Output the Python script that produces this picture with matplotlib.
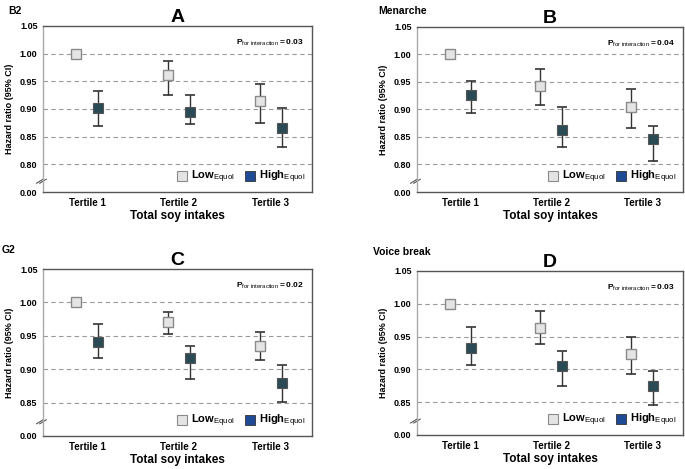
import matplotlib.pyplot as plt
from matplotlib.lines import Line2D

plt.rcParams['font.family'] = ['Liberation Sans', 'DejaVu Sans']
plt.rcParams['mathtext.fontset'] = 'custom'
plt.rcParams['mathtext.rm'] = 'Liberation Sans'
plt.rcParams['mathtext.bf'] = 'Liberation Sans:bold'

tertiles = ["Tertile 1", "Tertile 2", "Tertile 3"]
panels = ["A", "B", "C", "D"]
outcomes = ["B2", "Menarche", "G2", "Voice break"]
p_values = ["0.03", "0.04", "0.02", "0.03"]

# hazard ratio, lower CI, upper CI per tertile (None = reference, no CI)
low_hr = [[1.00, 0.962, 0.914], [1.00, 0.943, 0.904], [1.00, 0.970, 0.935], [1.00, 0.963, 0.924]]
low_lo = [[None, 0.925, 0.875], [None, 0.909, 0.867], [None, 0.952, 0.914], [None, 0.938, 0.893]]
low_hi = [[None, 0.987, 0.946], [None, 0.974, 0.937], [None, 0.986, 0.956], [None, 0.989, 0.949]]
high_hr = [[0.901, 0.894, 0.866], [0.927, 0.863, 0.846], [0.941, 0.917, 0.880], [0.932, 0.905, 0.875]]
high_lo = [[0.869, 0.872, 0.831], [0.893, 0.831, 0.807], [0.917, 0.885, 0.851], [0.906, 0.875, 0.845]]
high_hi = [[0.933, 0.925, 0.901], [0.952, 0.905, 0.870], [0.967, 0.934, 0.906], [0.965, 0.928, 0.898]]

# axis bottom (break value shown as 0.00) and gridline levels
y_bottom = [0.75, 0.75, 0.80, 0.80]
grid_levels = [[0.80, 0.85, 0.90, 0.95, 1.00], [0.80, 0.85, 0.90, 0.95, 1.00],
               [0.85, 0.90, 0.95, 1.00], [0.85, 0.90, 0.95, 1.00]]

rects = [
    [0.0628, 0.5906, 0.3927, 0.354],
    [0.6088, 0.5906, 0.3882, 0.352],
    [0.0628, 0.0704, 0.3927, 0.356],
    [0.6088, 0.0725, 0.3882, 0.350],
]
label_pos = [(0.012, 0.988), (0.552, 0.988), (0.003, 0.478), (0.545, 0.474)]

low_face = "#e4e4e4"
low_edge = "#8a8a8a"
high_face = "#2a4b55"
legend_blue = "#1f4b96"

fig = plt.figure(figsize=(6.85, 4.69), dpi=100)

for k in range(4):
    ax = fig.add_axes(rects[k])
    x = list(range(3))
    xl = [v - 0.12 for v in x]
    xh = [v + 0.12 for v in x]

    for lv in grid_levels[k]:
        ax.axhline(lv, color="#999999", lw=0.8, ls=(0, (4, 3)), zorder=0)

    for i in range(3):
        if low_lo[k][i] is not None:
            ax.errorbar(xl[i], low_hr[k][i],
                        yerr=[[low_hr[k][i] - low_lo[k][i]], [low_hi[k][i] - low_hr[k][i]]],
                        fmt="none", ecolor="#333333", elinewidth=1, capsize=3.5, capthick=1.2, zorder=2)
        ax.errorbar(xh[i], high_hr[k][i],
                    yerr=[[high_hr[k][i] - high_lo[k][i]], [high_hi[k][i] - high_hr[k][i]]],
                    fmt="none", ecolor="#333333", elinewidth=1, capsize=3.5, capthick=1.2, zorder=2)

    ax.plot(xl, low_hr[k], ls="none", marker="s", ms=7, mfc=low_face, mec=low_edge, mew=1, zorder=3)
    ax.plot(xh, high_hr[k], ls="none", marker="s", ms=7, mfc=high_face, mec="#555555", mew=0.8, zorder=3)

    ax.set_xlim(-0.48, 2.45)
    ax.set_ylim(y_bottom[k], 1.05)
    ticks = [y_bottom[k]] + grid_levels[k] + [1.05]
    ax.set_yticks(ticks)
    ax.set_yticklabels(["0.00"] + ["%.2f" % t for t in grid_levels[k]] + ["1.05"],
                       fontsize=6.5, fontweight="bold")
    ax.set_xticks(x)
    ax.set_xticklabels(tertiles, fontsize=7, fontweight="bold")
    ax.tick_params(length=0, pad=4)
    for s in ax.spines.values():
        s.set_color("#555555")
        s.set_linewidth(1)
    ax.spines["left"].set_color("#aaaaaa")

    ax.set_ylabel("Hazard ratio (95% CI)", fontsize=6.5, fontweight="bold", labelpad=4)
    ax.set_xlabel("Total soy intakes", fontsize=8.5, fontweight="bold", labelpad=2)
    ax.set_title(panels[k], fontsize=14, fontweight="bold", pad=3)

    # axis break marks
    by = 0.065 if k < 2 else 0.085
    for dx in (-0.012, 0.0):
        ax.plot([-0.012 + dx, 0.012 + dx], [by - 0.012, by + 0.012], color="#555555", lw=0.8,
                transform=ax.transAxes, clip_on=False)

    ax.text(0.97, 0.9, r"$\mathbf{P}_{\mathrm{for\ interaction}}\mathbf{=%s}$" % p_values[k],
            transform=ax.transAxes, ha="right", va="center", fontsize=6)

    handles = [
        Line2D([], [], ls="none", marker="s", ms=6.5, mfc=low_face, mec=low_edge, mew=0.8),
        Line2D([], [], ls="none", marker="s", ms=6.5, mfc=legend_blue, mec="#333333", mew=0.6),
    ]
    ax.legend(handles, [r"$\mathbf{Low}_{\mathrm{Equol}}$", r"$\mathbf{High}_{\mathrm{Equol}}$"],
              loc="lower right", ncol=2, frameon=False, fontsize=8, handlelength=0.8,
              handletextpad=0.4, columnspacing=1.0, borderaxespad=0.2)

    fig.text(label_pos[k][0], label_pos[k][1], outcomes[k], fontsize=7.5, fontweight="bold",
             ha="left", va="top")

fig.savefig("out.png", dpi=100)
